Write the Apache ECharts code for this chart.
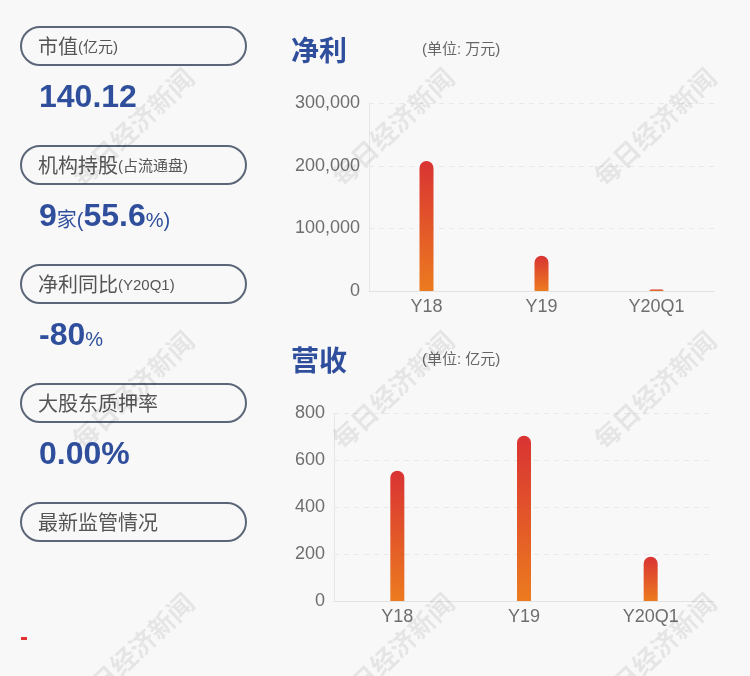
<!DOCTYPE html>
<html><head><meta charset="utf-8">
<script src="https://cdn.jsdelivr.net/npm/echarts@6/dist/echarts.min.js"></script>
<style>html,body{margin:0;padding:0;background:#f8f8f8}#c{width:750px;height:676px}</style>
</head><body><div id="c"></div>
<script>
// ---- data ----
const categories = ['Y18', 'Y19', 'Y20Q1'];
const netProfit = [208000, 56500, 2500];      // 万元
const revenue = [555, 704, 189];               // 亿元
const profitAxis = [0, 300000, 100000];        // min, max, interval
const revenueAxis = [0, 800, 200];
const pillTitles = ['市值', '机构持股', '净利同比', '大股东质押率', '最新监管情况'];
const pillSubs = ['(亿元)', '(占流通盘)', '(Y20Q1)', '', ''];
const statValues = ['{b|140.12}', '{b|9}{s|家(}{b|55.6}{s|%)}', '{b|-80}{s|%}', '{b|0.00%}'];
const chartTitles = ['净利', '营收'];
const chartUnits = ['(单位: 万元)', '(单位: 亿元)'];
const watermarkText = '每日经济新闻';

const FONT = '"Liberation Sans", Arial, "Noto Sans CJK SC", sans-serif';
const BLUE = '#2f4f9d';
const chart = echarts.init(document.getElementById('c'), null, {renderer: 'canvas'});

const barColor = new echarts.graphic.LinearGradient(0, 0, 0, 1, [
  {offset: 0, color: '#d93333'}, {offset: 1, color: '#ec7b1f'}
]);

const graphic = [];
// left panel pills
pillTitles.forEach((t, i) => {
  const top = 27 + i * 119;
  graphic.push({
    type: 'rect', x: 21, y: top, silent: true,
    shape: {width: 225, height: 38, r: 19},
    style: {fill: 'transparent', stroke: '#5b6678', lineWidth: 2}
  });
  graphic.push({
    type: 'text', x: 38, y: top + 21, silent: true,
    style: {
      text: '{a|' + t + '}' + (pillSubs[i] ? '{c|' + pillSubs[i] + '}' : ''),
      verticalAlign: 'middle',
      rich: {
        a: {fontSize: 20, fill: '#555', fontFamily: FONT, verticalAlign: 'middle'},
        c: {fontSize: 15, fill: '#555', fontFamily: FONT, verticalAlign: 'middle'}
      }
    }
  });
});
statValues.forEach((v, i) => {
  graphic.push({
    type: 'text', x: 39, y: 98 + i * 119, silent: true,
    style: {
      text: v, verticalAlign: 'middle',
      rich: {
        b: {fontSize: 32, fontWeight: 'bold', fill: BLUE, fontFamily: FONT},
        s: {fontSize: 20, fill: BLUE, fontFamily: FONT, padding: [8, 0, 0, 0]}
      }
    }
  });
});
// red dash
graphic.push({type: 'rect', x: 21, y: 637, silent: true, shape: {width: 6, height: 3}, style: {fill: '#e03232'}});
// chart titles
chartTitles.forEach((t, i) => {
  const cy = 50 + i * 310;
  graphic.push({type: 'text', x: 291, y: cy, silent: true,
    style: {text: t, fontSize: 28, fontWeight: 'bold', fill: BLUE, verticalAlign: 'middle', fontFamily: '"Noto Sans CJK SC", sans-serif'}});
  graphic.push({type: 'text', x: 422, y: cy, silent: true,
    style: {text: chartUnits[i], fontSize: 15, fill: '#666', verticalAlign: 'middle', fontFamily: FONT}});
});
// watermark
[133, 393, 655].forEach(x => {
  [127, 390, 652].forEach(y => {
    graphic.push({
      type: 'text', x: x, y: y, rotation: 0.76, z: 100, silent: true,
      style: {text: watermarkText, fontSize: 26, fontWeight: 'bold', fill: 'rgba(0,0,0,0.075)',
        align: 'center', verticalAlign: 'middle', fontFamily: '"Noto Sans CJK SC", serif'}
    });
  });
});

function yAxis(idx, ax) {
  return {
    type: 'value', gridIndex: idx, min: ax[0], max: ax[1], interval: ax[2],
    axisLine: {show: true, lineStyle: {color: '#e6e6e6'}},
    axisTick: {show: false},
    axisLabel: {color: '#6e6e6e', fontSize: 18, fontFamily: FONT, margin: 9,
      formatter: v => v.toLocaleString('en-US')},
    splitLine: {show: true, lineStyle: {color: '#e8e8e8', type: [5, 5]}}
  };
}
function xAxis(idx) {
  return {
    type: 'category', gridIndex: idx, data: categories,
    axisLine: {show: true, lineStyle: {color: '#e3e3e3'}},
    axisTick: {show: false},
    axisLabel: {color: '#6e6e6e', fontSize: 18, fontFamily: FONT, margin: 7}
  };
}
function bars(idx, data) {
  return {
    type: 'bar', xAxisIndex: idx, yAxisIndex: idx, data: data, barWidth: 14,
    itemStyle: {color: barColor, borderRadius: [7, 7, 0, 0]}, silent: true
  };
}

chart.setOption({
  backgroundColor: '#f8f8f8',
  animation: false,
  grid: [
    {left: 369, right: 36, top: 103.5, bottom: 385},
    {left: 334, right: 36, top: 413.3, bottom: 75}
  ],
  xAxis: [xAxis(0), xAxis(1)],
  yAxis: [yAxis(0, profitAxis), yAxis(1, revenueAxis)],
  series: [bars(0, netProfit), bars(1, revenue)],
  graphic: graphic
});
</script></body></html>
